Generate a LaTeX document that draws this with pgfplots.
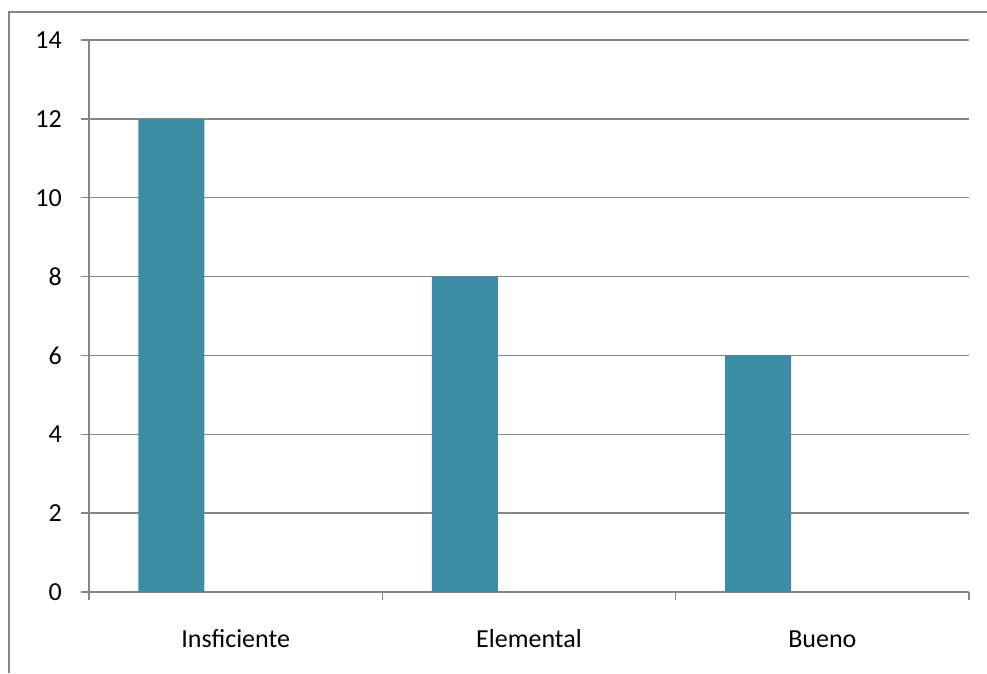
\documentclass[border=0pt]{standalone}
\usepackage{pgfplots}
\pgfplotsset{compat=1.18}
\usepackage{fontspec}
\setmainfont{Carlito}
\definecolor{barblue}{RGB}{59,140,164}
\definecolor{gridgray}{RGB}{134,134,134}
\begin{document}
\begin{tikzpicture}[x=1pt,y=1pt]
  \useasboundingbox (0,0) rectangle (987,673);
  \fill[white] (0,0) rectangle (987,673);
  \draw[gridgray, line width=1.5pt] (9,0) -- (9,661) -- (987,661);
  \begin{axis}[
    at={(89pt,81pt)}, anchor=south west,
    scale only axis,
    width=880pt, height=552pt,
    xmin=-0.5, xmax=2.5,
    ymin=0, ymax=14,
    ytick={0,2,...,14},
    xtick={0,1,2},
    xticklabels={Insficiente,Elemental,Bueno},
    minor xtick={-0.5,0.5,1.5,2.5},
    axis x line=bottom, axis y line=left,
    axis line style={-, gridgray, line width=1.5pt},
    ymajorgrids,
    major grid style={gridgray, line width=1.5pt},
    tick align=outside,
    ytick pos=left, xtick pos=bottom,
    major tick length=8pt,
    minor tick length=8pt,
    major x tick style={draw=none},
    tick style={gridgray, line width=1.5pt},
    font=\fontsize{26}{30}\selectfont,
    /pgf/number format/assume math mode=true,
    yticklabel style={anchor=east, inner sep=0pt, xshift=-19pt},
    xticklabel style={anchor=base, inner sep=0pt, yshift=-47pt},
  ]
  \addplot[ybar, bar width=0.225, fill=barblue, draw=none, bar shift=0pt]
    coordinates {(-0.219,12) (0.781,8) (1.781,6)};
  \end{axis}
\end{tikzpicture}
\end{document}
